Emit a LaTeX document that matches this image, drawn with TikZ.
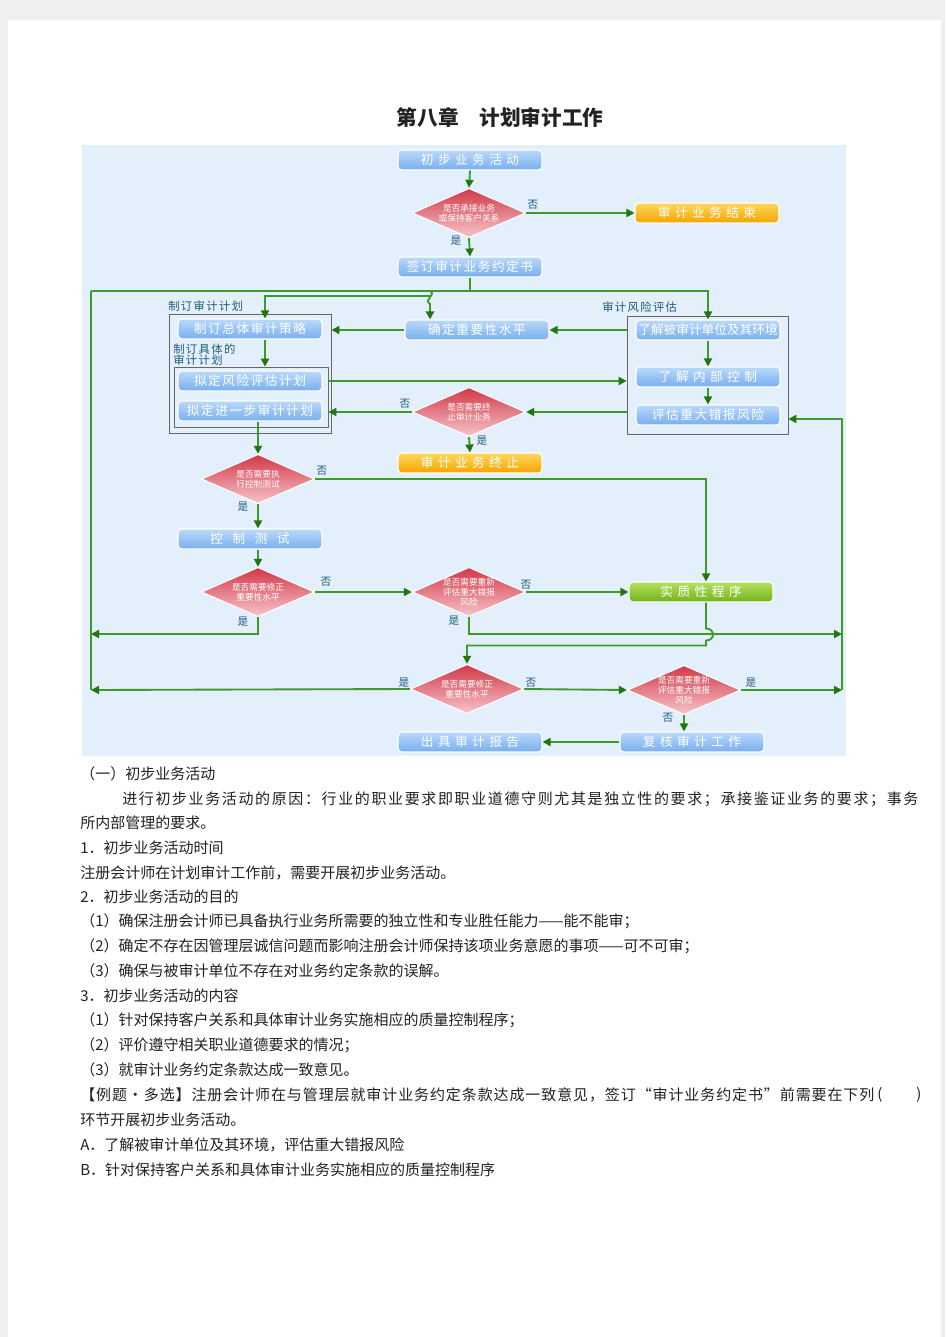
\documentclass[tikz,border=0pt]{standalone}
\usepackage{fontspec}
\newfontfamily\cjk{Noto Sans CJK SC}
\newfontfamily\cjkbox[LetterSpace=12]{Noto Sans CJK SC}
\newfontfamily\cjkwide[LetterSpace=35]{Noto Sans CJK SC}
\newfontfamily\cjkwider[LetterSpace=75]{Noto Sans CJK SC}
\newfontfamily\cjkjust[LetterSpace=10.8]{Noto Sans CJK SC}
\newfontfamily\cjkjustb[LetterSpace=6]{Noto Sans CJK SC}
\usetikzlibrary{shapes.geometric,arrows.meta,positioning}
\definecolor{pagegray}{HTML}{EFEFEF}
\definecolor{chartbg}{HTML}{E3EFFB}
\definecolor{flowgreen}{HTML}{3E9A2C}
\definecolor{tipgreen}{HTML}{237510}
\definecolor{labteal}{HTML}{1E5D7C}
\definecolor{bluetop}{HTML}{BAD9FB}
\definecolor{bluebot}{HTML}{78AEEE}
\definecolor{orangetop}{HTML}{FFD85E}
\definecolor{orangebot}{HTML}{F5A300}
\definecolor{greentop}{HTML}{B6E060}
\definecolor{greenbot}{HTML}{6FB31C}
\definecolor{redtop}{HTML}{D23746}
\definecolor{redbot}{HTML}{F6C6CC}
\definecolor{bodytext}{HTML}{222222}
\begin{document}
\begin{tikzpicture}[x=0.75pt, y=-0.75pt,
   bluebox/.style={rounded corners=3pt, draw=white, line width=0.8pt, top color=bluetop, bottom color=bluebot, text=white, minimum width=108pt, minimum height=15pt, inner sep=0pt, font=\cjkbox\fontsize{9.5}{10}\selectfont},
   widebox/.style={bluebox, font=\cjkwide\fontsize{9.5}{10}\selectfont},
   orangebox/.style={widebox, top color=orangetop, bottom color=orangebot},
   greenbox/.style={widebox, top color=greentop, bottom color=greenbot},
   decision/.style={diamond, draw=white, line width=0.8pt, top color=redtop, bottom color=redbot, text=white, minimum width=85pt, minimum height=37pt, inner sep=-1.5pt, shape aspect=2.3, align=center, font=\cjk\fontsize{6.5}{7.5}\selectfont},
   yesno/.style={text=labteal, inner sep=0pt, font=\cjk\fontsize{8}{8}\selectfont},
   grouplabel/.style={text=labteal, anchor=west, inner sep=0pt, align=left, font=\cjkbox\fontsize{8.5}{8.5}\selectfont},
   groupframe/.style={draw=black!60, line width=0.6pt, inner sep=0pt},
   flowline/.style={draw=flowgreen, line width=1.4pt, -{Triangle[length=6pt,width=6pt,color=tipgreen]}},
   plainline/.style={draw=flowgreen, line width=1.4pt},
   bodyline/.style={anchor=west, inner sep=0pt, text=bodytext, font=\cjk\fontsize{11.25}{12}\selectfont}
  ]
  \useasboundingbox (0,0) rectangle (945,1337);
  % page and chart background
  \fill[pagegray] (0,0) rectangle (945,1337);
  \fill[white] (8,20) rectangle (941,1337);
  \fill[chartbg] (82,145) rectangle (846,756);

  \node[font=\cjk\bfseries\fontsize{15.5}{16}\selectfont, text=bodytext] (title) at (500,118) {第八章\quad 计划审计工作};

  % group frames
  \node[groupframe, minimum width=121.5pt, minimum height=89.25pt] (planframe) at (250,373.5) {};
  \node[groupframe, minimum width=115.5pt, minimum height=45pt] (specframe) at (251,397) {};
  \node[groupframe, minimum width=120.75pt, minimum height=88.5pt] (riskframe) at (707.5,375) {};
  \node[grouplabel] (planlabel) at (168,306) {制订审计计划};
  \node[grouplabel] (risklabel) at (602,307) {审计风险评估};
  \node[grouplabel] (speclabel) at (173,355) {制订具体的\\审计计划};

  % boxes
  \node[widebox] (prelim) at (470,160) {初步业务活动};
  \node[decision] (accept) at (469,213) {是否承接业务\\或保持客户关系};
  \node[orangebox] (endwork) at (707,213) {审计业务结束};
  \node[bluebox] (sign) at (470,267) {签订审计业务约定书};
  \node[bluebox] (strategy) at (250,329) {制订总体审计策略};
  \node[bluebox] (materiality) at (477,330) {确定重要性水平};
  \node[bluebox, font=\cjk\fontsize{9.5}{10}\selectfont] (entity) at (708,330) {了解被审计单位及其环境};
  \node[widebox] (control) at (708,377) {了解内部控制};
  \node[bluebox] (assess) at (708,415) {评估重大错报风险};
  \node[bluebox] (riskplan) at (250,381) {拟定风险评估计划};
  \node[bluebox] (furtherplan) at (250,411) {拟定进一步审计计划};
  \node[decision] (terminate) at (469,412) {是否需要终\\止审计业务};
  \node[orangebox] (stopwork) at (470,463) {审计业务终止};
  \node[decision] (testctl) at (258,479) {是否需要执\\行控制测试};
  \node[widebox, font=\cjkwider\fontsize{9.5}{10}\selectfont] (ctltest) at (250,539) {控制测试};
  \node[decision] (revmat) at (258,592) {是否需要修正\\重要性水平};
  \node[decision] (reassess) at (469,592) {是否需要重新\\评估重大错报\\风险};
  \node[greenbox] (substantive) at (701,592) {实质性程序};
  \node[decision] (revmat2) at (467,689) {是否需要修正\\重要性水平};
  \node[decision] (reassess2) at (684,690) {是否需要重新\\评估重大错报\\风险};
  \node[widebox] (report) at (470,742) {出具审计报告};
  \node[widebox] (review) at (692,742) {复核审计工作};

  % rails and joints
  \coordinate (split) at (470,291);
  \coordinate (jump) at (430,291);
  \coordinate (fork) at (430,296);
  \coordinate (railtop) at (91,291);
  \coordinate (railmid) at (91,634);
  \coordinate (railbot) at (91,690);
  \coordinate (railright) at (842,634);
  \coordinate (railrb) at (842,690);
  \coordinate (railrt) at (842,419);

  % connectors
  \draw[flowline] (prelim.south) -- (accept.north);
  \draw[flowline] (accept.east) -- (endwork.west);
  \draw[flowline] (accept.south) -- (sign.north);
  \draw[plainline] (sign.south) -- (split);
  \draw[plainline] (railtop) -- (split);
  \draw[flowline] (split) -| (entity.north);
  \draw[flowline] (jump) .. controls +(7,3) and +(-7,-4) .. ++(0,13) -- (jump |- materiality.north);
  \draw[flowline] (fork) -| ([xshift=11.25pt]strategy.north);
  \draw[flowline] ([xshift=11.25pt]strategy.south) -- ([xshift=11.25pt]strategy.south |- specframe.north);
  \draw[flowline] (materiality.west) -- (materiality.west -| planframe.east);
  \draw[flowline] (entity.west -| riskframe.west) -- (materiality.east);
  \draw[flowline] (entity.south) -- (control.north);
  \draw[flowline] (control.south) -- (assess.north);
  \draw[flowline] (riskplan.east -| specframe.east) -- (riskplan.east -| riskframe.west);
  \draw[flowline] (terminate.east -| riskframe.west) -- (terminate.east);
  \draw[flowline] (terminate.west) -- (terminate.west -| specframe.east);
  \draw[flowline] (terminate.south) -- (stopwork.north);
  \draw[flowline] (testctl.north |- furtherplan.south) -- (testctl.north);
  \draw[flowline] (testctl.east) -| ([xshift=3.75pt]substantive.north);
  \draw[flowline] (testctl.south) -- (testctl.south |- ctltest.north);
  \draw[flowline] (revmat.north |- ctltest.south) -- (revmat.north);
  \draw[flowline] (revmat.east) -- (reassess.west);
  \draw[flowline] (revmat.south) |- (railmid);
  \draw[flowline] (reassess.east) -- (substantive.west);
  \draw[flowline] (reassess.south) |- (railright);
  \draw[flowline] ([xshift=3.75pt]substantive.south) -- ++(0,26) to[out=0,in=0,looseness=2] ++(0,12) -- ++(0,5) -| (revmat2.north);
  \draw[plainline] (railtop) -- (railbot);
  \draw[flowline] (revmat2.west) -- (railbot);
  \draw[flowline] (revmat2.east) -- (reassess2.west);
  \draw[flowline] (reassess2.east) -- (railrb);
  \draw[flowline] (railrb) -- (railrt) -- (railrt -| riskframe.east);
  \draw[flowline] (reassess2.south) -- (reassess2.south |- review.north);
  \draw[flowline] (review.west) -- (report.east);

  % yes / no labels
  \node[yesno] (no1) at (533,205) {否};
  \node[yesno] (yes1) at (456,241) {是};
  \node[yesno] (no2) at (405,404) {否};
  \node[yesno] (yes2) at (482,441) {是};
  \node[yesno] (no3) at (322,471) {否};
  \node[yesno] (yes3) at (243,507) {是};
  \node[yesno] (no4) at (326,582) {否};
  \node[yesno] (yes4) at (243,622) {是};
  \node[yesno] (no5) at (526,585) {否};
  \node[yesno] (yes5) at (454,621) {是};
  \node[yesno] (yes6) at (404,683) {是};
  \node[yesno] (no6) at (531,683) {否};
  \node[yesno] (yes7) at (751,683) {是};
  \node[yesno] (no7) at (668,718) {否};

  % text under the chart
  \node[bodyline] (t1) at (80,774) {（一）初步业务活动};
  \node[bodyline, font=\cjkjust\fontsize{11.25}{12}\selectfont] (t2) at (122,799) {进行初步业务活动的原因：行业的职业要求即职业道德守则尤其是独立性的要求；承接鉴证业务的要求；事务};
  \node[bodyline] (t3) at (80,823) {所内部管理的要求。};
  \node[bodyline] (t4) at (80,848) {1．初步业务活动时间};
  \node[bodyline] (t5) at (80,873) {注册会计师在计划审计工作前，需要开展初步业务活动。};
  \node[bodyline] (t6) at (80,897) {2．初步业务活动的目的};
  \node[bodyline] (t7) at (80,921) {（1）确保注册会计师已具备执行业务所需要的独立性和专业胜任能力——能不能审；};
  \node[bodyline] (t8) at (80,946) {（2）确定不存在因管理层诚信问题而影响注册会计师保持该项业务意愿的事项——可不可审；};
  \node[bodyline] (t9) at (80,971) {（3）确保与被审计单位不存在对业务约定条款的误解。};
  \node[bodyline] (t10) at (80,996) {3．初步业务活动的内容};
  \node[bodyline] (t11) at (80,1020) {（1）针对保持客户关系和具体审计业务实施相应的质量控制程序；};
  \node[bodyline] (t12) at (80,1045) {（2）评价遵守相关职业道德要求的情况；};
  \node[bodyline] (t13) at (80,1070) {（3）就审计业务约定条款达成一致意见。};
  \node[bodyline, font=\cjkjustb\fontsize{11.25}{12}\selectfont] (t14) at (80,1095) {【例题·多选】注册会计师在与管理层就审计业务约定条款达成一致意见，签订“审计业务约定书”前需要在下列};
  \node[bodyline] (t14a) at (877,1095) {(};
  \node[bodyline] (t14b) at (916,1095) {)};
  \node[bodyline] (t15) at (80,1120) {环节开展初步业务活动。};
  \node[bodyline] (t16) at (80,1145) {A．了解被审计单位及其环境，评估重大错报风险};
  \node[bodyline] (t17) at (80,1170) {B．针对保持客户关系和具体审计业务实施相应的质量控制程序};
\end{tikzpicture}
\end{document}
